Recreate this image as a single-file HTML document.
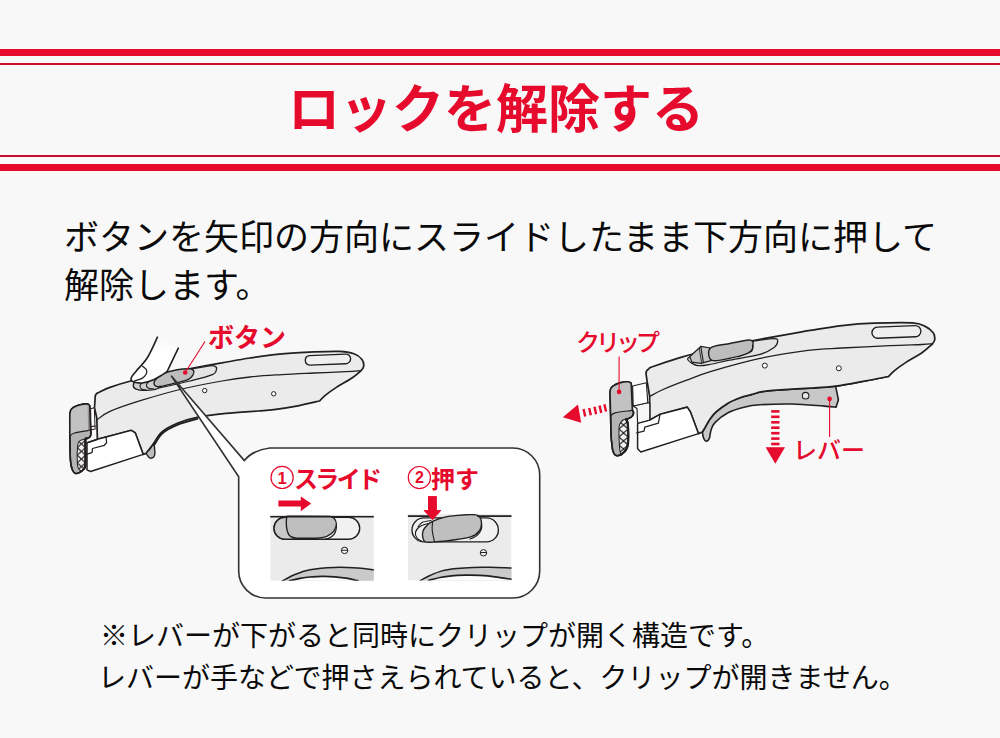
<!DOCTYPE html>
<html lang="ja"><head><meta charset="utf-8"><title>ロックを解除する</title>
<style>
html,body{margin:0;padding:0}
body{width:1000px;height:738px;background:#f8f8f8;position:relative;overflow:hidden;font-family:"Liberation Sans",sans-serif}
.band{position:absolute;left:0;width:1000px;background:#e60a2d}
svg.layer{position:absolute;left:0;top:0}
.t{position:absolute;color:transparent;white-space:nowrap;line-height:1;overflow:hidden;height:1em}
svg.layer text{font-family:"Liberation Sans","Noto Sans CJK JP",sans-serif}
</style></head><body>
<div class="band" style="top:49px;height:7px"></div>
<div class="band" style="top:63px;height:2px;background:#c90f2f"></div>
<div class="band" style="top:155px;height:2px;background:#c90f2f"></div>
<div class="band" style="top:164px;height:7px"></div>
<svg class="layer" width="1000" height="738" viewBox="0 0 1000 738">
<defs>
<linearGradient id="fg" x1="0" y1="0" x2="0" y2="1"><stop offset="0" stop-color="#fff" stop-opacity="0"/><stop offset="0.35" stop-color="#fff" stop-opacity="1"/></linearGradient>
<pattern id="hatL" x="77.2" y="440" width="8.4" height="7.6" patternUnits="userSpaceOnUse"><rect width="8.4" height="7.6" fill="#f2f2f2"/><path d="M0 0L8.4 7.6M8.4 0L0 7.6" stroke="#231f20" stroke-width="1.2" fill="none"/></pattern>
<pattern id="hatR" x="618.8" y="421" width="9.4" height="8" patternUnits="userSpaceOnUse"><rect width="9.4" height="8" fill="#f2f2f2"/><path d="M0 0L9.4 8M9.4 0L0 8" stroke="#231f20" stroke-width="1.2" fill="none"/></pattern>
</defs>
<g id="left-handle">
<path d="M95.2 397Q95 394.2 98 392.8C100 391.9 104.5 389.4 110 387.4C115.5 385.4 122.5 383.1 130.8 381C139.1 378.9 149.6 376.7 160 374.6C170.4 372.5 182.9 370.1 193.2 368.2C203.5 366.2 212.5 364.6 222 362.9C231.5 361.2 240 359.5 250 358C260 356.5 271.3 354.8 282 353.8C292.7 352.8 304.4 352.3 314 351.9C323.6 351.5 332.9 351.1 339.6 351.4C346.3 351.7 350.3 352.5 354 353.8C357.7 355.1 360.4 357.3 362 359.4C363.6 361.5 363.9 364.6 363.6 366.6C363.3 368.6 360.9 370.6 360.4 371.4C359.1 372.5 356.4 375.1 352.4 377.8C348.4 380.5 340.9 384.5 336.4 387.4C331.9 390.3 328 393.1 325.2 395.4C322.4 397.7 320.5 400.1 319.6 401C316 401.8 305.6 404.4 298 405.8C290.4 407.2 280.7 408.7 274 409.6C267.3 410.5 266 410.4 258 411C250 411.6 236.1 412.3 226 413.4C215.9 414.5 205.2 415.8 197.2 417.4C189.2 419 183.9 420.6 178 423C172.1 425.4 166 428.5 162 431.8C158 435.1 155.3 441.1 154 443L146 453.4L143.2 454.4L135.2 432.8L131.2 430.4L106 437L97.4 439.3L96.8 418L94.5 407.7Z" fill="#ebebeb" stroke="#231f20" stroke-width="1.72" stroke-linejoin="round" stroke-linecap="round" />
<path d="M154 443C154.2 444.8 155 451.1 154.9 453.5C154.8 455.9 154.1 456.5 153.4 457.3C152.7 458.1 151.6 458.2 150.8 458.2C150 458.1 149.4 457.8 148.6 457C147.8 456.2 146.4 454 146 453.4L150 449L154 443Z" fill="#bdbdbd" stroke="#231f20" stroke-width="1.38" stroke-linejoin="round" stroke-linecap="round" />
<path d="M154.5 444.5C155.8 442.6 158.5 436.6 162.5 433.2C166.5 429.8 172.7 426.8 178.5 424.4C184.3 422 194.2 419.7 197.4 418.8" fill="none" stroke="#231f20" stroke-width="1.84" stroke-linejoin="round" stroke-linecap="round" />
<path d="M96.8 420C99 418.6 102.5 414.7 110 411.4C117.5 408.1 130 403.9 142 400.2C154 396.5 168.7 392.2 182 389C195.3 385.8 210.7 383 222 381C233.3 379 240 378.1 250 377C260 375.9 271.3 375.3 282 374.6C292.7 373.9 303.3 373.5 314 373C324.7 372.5 338.3 372.1 346 371.7C353.7 371.3 358 370.8 360.4 370.6" fill="none" stroke="#231f20" stroke-width="1.26" stroke-linejoin="round" stroke-linecap="round" />
<path d="M87 442.8L97.4 439.3L106 437L131.2 430.4L135.2 432.8L143.2 454.4L90.5 471.5L87 469.8Z" fill="#fff" stroke="#231f20" stroke-width="1.49" stroke-linejoin="round" stroke-linecap="round" />
<path d="M86.2 454.3L92 452.6L92.5 448.5L104.3 445.3L106.6 442.8L106 437" fill="none" stroke="#231f20" stroke-width="1.26" stroke-linejoin="round" stroke-linecap="round" />
<path d="M97.4 439.3L87 442.8" fill="none" stroke="#231f20" stroke-width="1.26" stroke-linejoin="round" stroke-linecap="round" />
<path d="M90.6 408.8L94.3 407.7L95 426L91 426.8Z" fill="#fff" stroke="#231f20" stroke-width="1.03" stroke-linejoin="round" stroke-linecap="round" />
<path d="M91 426.8L95 426L95.2 429L91.2 429.8Z" fill="#fff" stroke="#231f20" stroke-width="1.03" stroke-linejoin="round" stroke-linecap="round" />
<path d="M69.8 414.5C69.9 413.9 70.1 411.7 70.6 410.6C71.1 409.5 71.3 408.8 72.8 407.8C74.3 406.9 77.2 405.5 79.6 404.9C82 404.2 85.5 403.8 87.2 403.9C88.9 404 89.4 405.5 89.8 405.8L90.4 428.8C90.5 429.6 91.1 432.1 91 433.5C90.9 434.9 90.5 436.1 89.8 437C89.1 437.9 87.1 438.3 86.6 438.6C86.4 439 85.6 436.8 85.4 441C85.2 445.2 85.6 459.4 85.4 464C85.2 468.6 84.4 467.8 84.2 468.6C83.5 469.2 81.4 471.4 80 472.2C78.6 473 76.9 473.8 75.6 473.4C74.3 473 73.2 472 72.3 469.8C71.4 467.6 70.8 466 70.4 460C70 454 69.9 438.3 69.8 434L69.8 414.5Z" fill="#b4b4b4" stroke="#231f20" stroke-width="1.61" stroke-linejoin="round" stroke-linecap="round" />
<path d="M69.8 414.5C69.9 413.9 70.1 411.7 70.6 410.6C71.1 409.5 71.3 408.8 72.8 407.8C74.3 406.9 77.2 405.5 79.6 404.9C82 404.2 85.5 403.8 87.2 403.9C88.9 404 89.4 405.5 89.8 405.8L90.4 428.8C90.1 429.8 90.6 430 87.9 430.6C85.2 431.2 77.5 432.1 74.5 433C71.5 433.9 70.7 435.5 69.9 436Z" fill="#c2c2c2" stroke="none" stroke-width="0.0" stroke-linejoin="round" stroke-linecap="round" />
<path d="M69.9 436C70.7 435.5 71.5 433.9 74.5 433C77.5 432.1 85.2 431.2 87.9 430.6C90.6 430 90.1 429.8 90.6 429.6" fill="none" stroke="#231f20" stroke-width="1.15" stroke-linejoin="round" stroke-linecap="round" />
<path d="M86.6 438.6C85.6 438.9 82.1 439.4 80.6 440.4C79.1 441.4 78.3 440.7 77.8 444.6C77.3 448.5 77.1 459.8 77.4 464C77.7 468.2 78.6 468.6 79.4 469.8C80.2 471 81.9 470.8 82.4 471L84.2 468.6C84.4 467.8 85.2 468.6 85.4 464C85.6 459.4 85.2 445.2 85.4 441C85.6 436.8 86.4 439 86.6 438.6Z" fill="url(#hatL)" stroke="#231f20" stroke-width="1.03" stroke-linejoin="round" stroke-linecap="round" />
<path d="M86.6 438.6C86.4 439 85.6 436.8 85.4 441C85.2 445.2 85.6 459.4 85.4 464C85.2 468.6 84.4 467.8 84.2 468.6" fill="none" stroke="#231f20" stroke-width="2.3" stroke-linejoin="round" stroke-linecap="round" />
<path d="M69.8 414.5C69.9 413.9 70.1 411.7 70.6 410.6C71.1 409.5 71.3 408.8 72.8 407.8C74.3 406.9 77.2 405.5 79.6 404.9C82 404.2 85.5 403.8 87.2 403.9C88.9 404 89.4 405.5 89.8 405.8L90.4 428.8C90.5 429.6 91.1 432.1 91 433.5C90.9 434.9 90.5 436.1 89.8 437C89.1 437.9 87.1 438.3 86.6 438.6C86.4 439 85.6 436.8 85.4 441C85.2 445.2 85.6 459.4 85.4 464C85.2 468.6 84.4 467.8 84.2 468.6C83.5 469.2 81.4 471.4 80 472.2C78.6 473 76.9 473.8 75.6 473.4C74.3 473 73.2 472 72.3 469.8C71.4 467.6 70.8 466 70.4 460C70 454 69.9 438.3 69.8 434L69.8 414.5Z" fill="none" stroke="#231f20" stroke-width="1.61" stroke-linejoin="round" stroke-linecap="round" />
<path d="M88.2 405.2L88.6 430.2" fill="none" stroke="#777" stroke-width="0.69" stroke-linejoin="round" stroke-linecap="round" />
<path d="M137 380.8C141.4 379.2 151.2 377.2 160 375.3C168.8 373.4 181.7 370.9 190 369.3C198.3 367.7 205.7 366.2 210 365.8C214.3 365.4 214.5 366 215.6 366.6C216.7 367.2 216.9 368.3 216.4 369.6C215.9 370.9 216.8 372.7 212.4 374.6C208 376.5 199.1 378.7 190 381C180.9 383.3 165.5 386.6 158 388.2C150.5 389.8 148.7 390.2 145 390.3C141.3 390.4 137.9 389.9 136 389C134.1 388.1 133.2 386.4 133.4 385C133.6 383.6 132.6 382.4 137 380.8Z" fill="#e3e3e3" stroke="#231f20" stroke-width="1.26" stroke-linejoin="round" stroke-linecap="round" />
<path d="M137 380.8C139.8 379.6 146.2 378.3 150 377.5C153.8 376.7 158.7 374.2 160 376C161.3 377.8 160.5 385.8 158 388.2C155.5 390.6 148.7 390.2 145 390.3C141.3 390.4 137.9 389.9 136 389C134.1 388.1 133.2 386.4 133.4 385C133.6 383.6 134.2 382.1 137 380.8Z" fill="#cfcfcf" stroke="#231f20" stroke-width="1.15" stroke-linejoin="round" stroke-linecap="round" />
<path d="M150 380.5C149.4 381.2 146.8 383.2 146.5 384.5C146.2 385.8 146.8 387.2 148 388C149.2 388.8 153 388.8 154 389" fill="none" stroke="#231f20" stroke-width="1.15" stroke-linejoin="round" stroke-linecap="round" />
<path d="M143.5 381.5C142.9 382.2 140.3 384.2 140 385.5C139.7 386.8 140.5 388.2 141.5 389C142.5 389.8 145.2 389.8 146 390" fill="none" stroke="#231f20" stroke-width="1.15" stroke-linejoin="round" stroke-linecap="round" />
<path d="M154 383.4C153.8 382 155.5 379.6 157 378C158.5 376.4 159.4 375.2 162.8 373.8C166.2 372.4 172.7 370.6 177.2 369.8C181.7 369 187.3 368.7 190 368.8C192.7 368.9 193.1 369.7 193.6 370.6C194.1 371.6 194.1 373 193.2 374.5C192.3 376 191.6 377.9 188.4 379.4C185.2 380.9 179.1 382.2 174 383.4C168.9 384.6 161.3 386.6 158 386.6C154.7 386.6 154.2 384.8 154 383.4Z" fill="#bdbdbd" stroke="#231f20" stroke-width="1.38" stroke-linejoin="round" stroke-linecap="round" />
<circle cx="204.7" cy="390.6" r="2.2" fill="#fff" stroke="#231f20" stroke-width="1"/>
<circle cx="273.7" cy="393.8" r="2.2" fill="#fff" stroke="#231f20" stroke-width="1"/>
<path d="M309.2 355.6L345.6 354.1A4.8 4.8 0 0 1 346 363.7L309.7 365.1A4.8 4.8 0 0 1 309.2 355.6Z" fill="#efefef" stroke="#231f20" stroke-width="1.38" stroke-linejoin="round" stroke-linecap="round" />
<path d="M157.4 337.2C155.8 340.6 151 351.9 147.5 357.5C144 363.1 139.1 367.6 136.5 370.7C133.9 373.8 133 374.7 132.1 376.2C131.2 377.7 130.8 378.6 131 379.5C131.2 380.4 131.4 381.2 133.2 381.8C135 382.4 138.7 383.3 142 383C145.3 382.7 149.7 381.3 153 380C156.3 378.7 159.4 376.6 161.8 375.1C164.2 373.7 166.4 371.9 167.3 371.3L171.7 361.9L178.3 348.2Z" fill="url(#fg)" stroke="none" stroke-width="0.0" stroke-linejoin="round" stroke-linecap="round" />
<path d="M157.4 337.2C155.8 340.6 151 351.9 147.5 357.5C144 363.1 139.1 367.6 136.5 370.7C133.9 373.8 133 374.7 132.1 376.2C131.2 377.7 130.8 378.6 131 379.5C131.2 380.4 131.4 381.2 133.2 381.8C135 382.4 138.7 383.3 142 383C145.3 382.7 149.7 381.3 153 380C156.3 378.7 159.4 376.6 161.8 375.1C164.2 373.7 166.4 371.9 167.3 371.3" fill="none" stroke="#231f20" stroke-width="1.61" stroke-linejoin="round" stroke-linecap="round" />
<path d="M167.3 371.3C168 369.7 169.9 365.8 171.7 361.9C173.5 358 177.2 350.5 178.3 348.2" fill="none" stroke="#231f20" stroke-width="1.61" stroke-linejoin="round" stroke-linecap="round" />
<path d="M142.6 366.3C143.2 366.9 145.8 368.5 146.4 369.8C147 371.1 146.9 372.6 146.2 374C145.5 375.4 144 377.2 142 378.4C140 379.6 135.6 380.6 134.3 381" fill="none" stroke="#231f20" stroke-width="1.26" stroke-linejoin="round" stroke-linecap="round" />
</g>
<g id="callout">
<path d="M270 448H513A27 27 0 0 1 539.7 475V571A27 27 0 0 1 513 598H265.7A27 27 0 0 1 238.7 571V476.8L171.6 376.2L244.4 460.6Q252 450.5 270 448Z" fill="#fff" stroke="#333" stroke-width="1.61" stroke-linejoin="round" stroke-linecap="round" />
</g>
<g id="callout-contents">
<circle cx="282.1" cy="477.4" r="11.1" fill="none" stroke="#e60a2d" stroke-width="1.2"/>
<text x="282.1" y="483.6" font-size="16.5" font-weight="700" fill="#e60a2d" text-anchor="middle">1</text>
<circle cx="419.4" cy="477.6" r="11.1" fill="none" stroke="#e60a2d" stroke-width="1.2"/>
<text x="419.4" y="483.1" font-size="16" font-weight="700" fill="#e60a2d" text-anchor="middle">2</text>
<path d="M278.4 500.5H300.8V496.5L311.2 503.6L300.8 511.2V506.6H278.4Z" fill="#e60a2d"/>
<path d="M428.1 496.3H436.7V510.2H441.3L432.6 520.2L423.6 510.2H428.1Z" fill="#e60a2d"/>
<clipPath id="in1"><rect x="270.2" y="515.6" width="103.60000000000002" height="65.19999999999993"/></clipPath>
<g clip-path="url(#in1)"><rect x="270.2" y="515.6" width="103.60000000000002" height="65.19999999999993" fill="#ebebeb"/>
<path d="M282.4 580.8C284.5 579.8 290.4 576.3 295 574.5C299.6 572.7 303.5 571 310 569.8C316.5 568.6 326 567.7 334 567.4C342 567.1 351.4 567.6 358 568C364.6 568.4 371.2 569.5 373.8 569.8L380 570L380 590L275 590Z" fill="#cacaca" stroke="#231f20" stroke-width="1.49" stroke-linejoin="round" stroke-linecap="round" />
<path d="M289.6 580.8C291.3 580.4 296.6 578.9 300 578.3C303.4 577.7 305.9 577.3 310 577C314.1 576.7 318.4 576.2 324.4 576.4C330.4 576.6 340.4 577.5 346 578.2C351.6 578.9 356 580.4 358 580.8L358 590L289 590Z" fill="#fdfdfd" stroke="#231f20" stroke-width="1.72" stroke-linejoin="round" stroke-linecap="round" />
<path d="M285 517.2H348.7A11 11 0 0 1 348.7 539.2H285A11 11 0 0 1 285 517.2Z" fill="#f1f1f1" stroke="#231f20" stroke-width="1.38" stroke-linejoin="round" stroke-linecap="round" />
<path d="M285 517.2H294V539.2H285A11 11 0 0 1 285 517.2Z" fill="#c9c9c9" stroke="#231f20" stroke-width="1.38" stroke-linejoin="round" stroke-linecap="round" />
<path d="M336.4 524C337 533 332 538 325 539.4" fill="none" stroke="#231f20" stroke-width="1.26" stroke-linejoin="round" stroke-linecap="round" />
<path d="M286.8 516C286 522 286 530 289 535C291 537.5 294 538 297 538.2L316 538.2C324 538 331 535 334 530.8C337 526 337 521 334 518.2C332 516.3 330 516 328 516L290 515.6Z" fill="#bfbfbf" stroke="#231f20" stroke-width="1.38" stroke-linejoin="round" stroke-linecap="round" />
<circle cx="344.6" cy="550.4" r="3.2" fill="#f4f4f4" stroke="#231f20" stroke-width="1"/>
<path d="M341.6 550.2H347.6" fill="none" stroke="#231f20" stroke-width="1.03" stroke-linejoin="round" stroke-linecap="round" />
<path d="M270 516.6H374" fill="none" stroke="#231f20" stroke-width="1.72" stroke-linejoin="round" stroke-linecap="round" />
</g>
<clipPath id="in2"><rect x="407.9" y="514" width="103.60000000000002" height="66.39999999999998"/></clipPath>
<g clip-path="url(#in2)"><rect x="407.9" y="514" width="103.60000000000002" height="66.39999999999998" fill="#ebebeb"/>
<path d="M420.4 580.4C422 579.6 426.4 577.1 430 575.5C433.6 573.9 437.5 572.1 442 570.9C446.5 569.7 451.9 569.1 457 568.5C462.1 567.9 467.2 567.6 472.7 567.4C478.2 567.2 483.5 567.2 490 567.3C496.5 567.4 507.9 568 511.5 568.1L520 568L520 590L415 590Z" fill="#cacaca" stroke="#231f20" stroke-width="1.49" stroke-linejoin="round" stroke-linecap="round" />
<path d="M428.8 580.4C430.7 579.9 436.2 578.3 440 577.5C443.8 576.7 447.6 576.2 451.8 575.8C456 575.4 460.4 575.3 465 575.2C469.6 575.1 474.7 575.1 479.7 575.4C484.7 575.7 489.7 576.1 495 576.8C500.3 577.4 508.8 578.9 511.5 579.3L520 580L520 590L428 590Z" fill="#fdfdfd" stroke="#231f20" stroke-width="1.72" stroke-linejoin="round" stroke-linecap="round" />
<path d="M424 517.9H486.4A12 12 0 0 1 486.4 541.9H424A12 12 0 0 1 424 517.9Z" fill="#f1f1f1" stroke="#231f20" stroke-width="1.38" stroke-linejoin="round" stroke-linecap="round" />
<path d="M428 523.5C426.7 524 422.1 525.1 420 526.5C417.9 527.9 416 530.1 415.5 532C415 533.9 415.9 536.4 417 538C418.1 539.6 421.2 540.9 422 541.5" fill="none" stroke="#231f20" stroke-width="1.15" stroke-linejoin="round" stroke-linecap="round" />
<path d="M431 520.5C429.5 520.8 424.2 521.4 422 522.5C419.8 523.6 418.7 526.2 418 527" fill="none" stroke="#231f20" stroke-width="1.15" stroke-linejoin="round" stroke-linecap="round" />
<path d="M481.6 524C482.5 531 478 536.5 470 539" fill="none" stroke="#231f20" stroke-width="1.26" stroke-linejoin="round" stroke-linecap="round" />
<path d="M432.6 521.4C435.5 520.1 440.6 518.2 444.8 517.2C449 516.2 453.6 515.8 458 515.4C462.4 515 467.9 514.5 471.3 514.6C474.7 514.7 476.6 514.5 478.3 515.8C480 517 481.2 519.6 481.4 522.1C481.6 524.6 481.4 528.1 479.7 530.5C478 532.9 475.9 535.1 471.3 536.7C466.7 538.3 458 539.3 451.8 540.2C445.6 541.1 438.8 541.6 434.4 541.9C430 542.2 427.2 542.6 425.3 541.9C423.4 541.1 423.2 539.3 422.8 537.4C422.4 535.5 422.4 532.6 423.2 530.5C424 528.4 425.8 526.4 427.4 524.9C429 523.4 429.7 522.7 432.6 521.4Z" fill="#bfbfbf" stroke="#231f20" stroke-width="1.38" stroke-linejoin="round" stroke-linecap="round" />
<path d="M432.6 521.8C432.5 523.2 431.9 526.7 432.2 530C432.5 533.3 434 539.7 434.4 541.6" fill="none" stroke="#231f20" stroke-width="1.15" stroke-linejoin="round" stroke-linecap="round" />
<circle cx="483.5" cy="552.8" r="3.2" fill="#f4f4f4" stroke="#231f20" stroke-width="1"/>
<path d="M480.5 552.6H486.5" fill="none" stroke="#231f20" stroke-width="1.03" stroke-linejoin="round" stroke-linecap="round" />
<path d="M407 516.2H433M478 516.2H512" fill="none" stroke="#231f20" stroke-width="1.72" stroke-linejoin="round" stroke-linecap="round" />
</g>
<path d="M428.1 496.3H436.7V510.2H441.3L432.6 520.2L423.6 510.2H428.1Z" fill="#e60a2d"/>
</g>
<g id="right-handle">
<path d="M888.4 376.5C884.7 377.2 874.8 379.2 866 380.8C857.2 382.4 844.9 384.9 835.6 386.1C826.3 387.3 817.3 387.7 810 388.2C802.7 388.7 799.7 388.7 792 389.2C784.3 389.7 770.7 390.5 764 391.4C757.3 392.3 756 393.3 752 394.4C748 395.5 744 396.3 740 397.8C736 399.3 732 400.8 728 403.2C724 405.6 718.9 409.4 716 412C713.1 414.6 712.3 415.8 710.4 418.5C708.5 421.2 705.7 426.4 704.8 428L702.4 432C702.6 432.9 702.9 436.2 703.4 437.6C703.9 439 704.5 440.1 705.2 440.6C705.9 441.1 707.1 441.2 707.8 440.7C708.5 440.2 709.3 438.1 709.6 437.6C709.9 436.3 710.3 432.1 711.2 429.6C712.1 427.1 712.4 425.2 715.2 422.4C718 419.6 723.2 415.3 728 412.8C732.8 410.3 738.7 408.5 744 407.2C749.3 405.9 752 405.3 760 404.8C768 404.3 781.3 403.8 792 404C802.7 404.2 816.7 405.6 824 406.1C831.3 406.6 834 407 836 407.2L838.4 400L838 397.6L835.6 386.1Z" fill="#c8c8c8" stroke="#231f20" stroke-width="1.61" stroke-linejoin="round" stroke-linecap="round" />
<path d="M646 373.5Q646 370.2 649 368.8C649.6 368.5 647.2 368.7 652.4 366.8C657.6 364.9 672.1 360 680 357.6C687.9 355.2 692.5 354.2 700 352.3C707.5 350.4 716.3 348.4 725 346.5C733.7 344.6 740.8 342.9 752 340.8C763.2 338.7 782.3 335.3 792 333.6C801.7 331.9 801.7 331.7 810 330.4C818.3 329.1 831.3 326.8 842 325.6C852.7 324.4 862.3 323.6 874 323.2C885.7 322.8 903.9 322.4 912.4 322.9C920.9 323.4 921.7 324.8 925.2 326.4C928.7 328 931.6 330.7 933.2 332.8C934.8 334.9 934.9 337.3 934.8 339.2C934.7 341.1 932.8 343.2 932.4 344C930.7 345.5 926.4 349.7 922 352.8C917.6 355.9 910.5 359.5 906 362.4C901.5 365.3 897.7 368 894.8 370.4C891.9 372.8 889.5 375.5 888.4 376.5C884.7 377.2 874.8 379.2 866 380.8C857.2 382.4 844.9 384.9 835.6 386.1C826.3 387.3 817.3 387.7 810 388.2C802.7 388.7 799.7 388.7 792 389.2C784.3 389.7 770.7 390.5 764 391.4C757.3 392.3 756 393.3 752 394.4C748 395.5 744 396.3 740 397.8C736 399.3 732 400.8 728 403.2C724 405.6 718.9 409.4 716 412C713.1 414.6 712.3 415.8 710.4 418.5C708.5 421.2 705.7 426.4 704.8 428L702.4 432L698.4 433.6L690.4 412L687.2 407.2L660 414.4L649.8 420L649.6 396L647.2 382Z" fill="#ebebeb" stroke="#231f20" stroke-width="1.72" stroke-linejoin="round" stroke-linecap="round" />
<path d="M650 396.4C652 395.3 656 392.7 662 390C668 387.3 677.7 383.5 686 380.4C694.3 377.3 699.7 374.9 712 371.2C724.3 367.5 744 361.9 760 358.4C776 354.9 794.3 352.1 808 350.4C821.7 348.7 828.3 348.8 842 348C855.7 347.2 876.7 346.2 890 345.6C903.3 345 915 344.8 922 344.5C929 344.2 930.3 343.9 932 343.8" fill="none" stroke="#231f20" stroke-width="1.26" stroke-linejoin="round" stroke-linecap="round" />
<path d="M637.6 423.2L649.8 420L660 414.4L687.2 407.2L690.4 412L698.4 433.6L640.8 452L637.6 448.8Z" fill="#fff" stroke="#231f20" stroke-width="1.49" stroke-linejoin="round" stroke-linecap="round" />
<path d="M636.8 432.8L644 431.2L644.8 427.2L658.4 423.2L660 414.4" fill="none" stroke="#231f20" stroke-width="1.26" stroke-linejoin="round" stroke-linecap="round" />
<path d="M633.2 406L647.6 402.8L649.8 403L649.8 420L637.6 423.2L637 408.4Z" fill="#f6f6f6" stroke="#231f20" stroke-width="1.15" stroke-linejoin="round" stroke-linecap="round" />
<path d="M632.6 386L646.4 382.8L647.8 402.8L633.2 406Z" fill="#fff" stroke="#231f20" stroke-width="1.15" stroke-linejoin="round" stroke-linecap="round" />
<path d="M610 392.4C610.1 391.8 610.3 389.6 610.8 388.6C611.3 387.6 611.4 387.1 612.9 386.2C614.4 385.2 617.3 383.6 619.8 382.9C622.3 382.2 626.1 381.7 628 381.8C629.9 381.9 630.7 383.1 631.2 383.3L632.4 410.4C632.6 410.8 633.8 411.9 633.6 413C633.4 414.1 632.7 415.9 631.4 417C630.1 418.1 626.9 419.2 626 419.6C626.3 420.3 627.5 420.1 627.8 424C628.1 427.9 628.4 438.9 628 443.3C627.6 447.7 626.8 448.5 625.6 450.4C624.4 452.3 621.8 453.9 621 454.6C620.2 454.8 617.5 456.1 616.2 455.6C614.9 455.1 613.7 453.7 613 451.6C612.3 449.6 612.1 445.9 611.8 443.3C611.5 440.7 611.3 440.6 611.1 436C610.9 431.4 610.7 419.3 610.6 416L610 392.4Z" fill="#b4b4b4" stroke="#231f20" stroke-width="1.61" stroke-linejoin="round" stroke-linecap="round" />
<path d="M610 392.4C610.1 391.8 610.3 389.6 610.8 388.6C611.3 387.6 611.4 387.1 612.9 386.2C614.4 385.2 617.3 383.6 619.8 382.9C622.3 382.2 626.1 381.7 628 381.8C629.9 381.9 630.7 383.1 631.2 383.3L632.4 410.4C632.1 410.4 633.3 410.2 630.4 410.6C627.5 411 618.3 412 615 412.9C611.7 413.8 611.3 415.5 610.6 416Z" fill="#c2c2c2" stroke="none" stroke-width="0.0" stroke-linejoin="round" stroke-linecap="round" />
<path d="M610.6 416C611.3 415.5 611.7 413.8 615 412.9C618.3 412 627.5 411 630.4 410.6C633.3 410.2 632.1 410.4 632.4 410.4" fill="none" stroke="#231f20" stroke-width="1.15" stroke-linejoin="round" stroke-linecap="round" />
<path d="M631.4 417C630.1 417.5 625.5 418.7 623.6 419.8C621.7 420.9 621 421.9 620.2 423.4C619.4 424.9 619.1 424.6 619 428.7C618.9 432.8 619.3 443.9 619.6 448.2C619.9 452.5 620.8 453.5 621 454.6L621 454.6C621.8 453.9 624.4 452.3 625.6 450.4C626.8 448.5 627.6 447.7 628 443.3C628.4 438.9 628.1 427.9 627.8 424C627.5 420.1 626.3 420.3 626 419.6Z" fill="url(#hatR)" stroke="#231f20" stroke-width="1.03" stroke-linejoin="round" stroke-linecap="round" />
<path d="M626 419.6C626.3 420.3 627.5 420.1 627.8 424C628.1 427.9 628.4 438.9 628 443.3C627.6 447.7 626.8 448.5 625.6 450.4C624.4 452.3 621.8 453.9 621 454.6" fill="none" stroke="#231f20" stroke-width="2.3" stroke-linejoin="round" stroke-linecap="round" />
<path d="M610 392.4C610.1 391.8 610.3 389.6 610.8 388.6C611.3 387.6 611.4 387.1 612.9 386.2C614.4 385.2 617.3 383.6 619.8 382.9C622.3 382.2 626.1 381.7 628 381.8C629.9 381.9 630.7 383.1 631.2 383.3L632.4 410.4C632.6 410.8 633.8 411.9 633.6 413C633.4 414.1 632.7 415.9 631.4 417C630.1 418.1 626.9 419.2 626 419.6C626.3 420.3 627.5 420.1 627.8 424C628.1 427.9 628.4 438.9 628 443.3C627.6 447.7 626.8 448.5 625.6 450.4C624.4 452.3 621.8 453.9 621 454.6C620.2 454.8 617.5 456.1 616.2 455.6C614.9 455.1 613.7 453.7 613 451.6C612.3 449.6 612.1 445.9 611.8 443.3C611.5 440.7 611.3 440.6 611.1 436C610.9 431.4 610.7 419.3 610.6 416L610 392.4Z" fill="none" stroke="#231f20" stroke-width="1.61" stroke-linejoin="round" stroke-linecap="round" />
<path d="M688 360C686.9 358.4 689 357.1 691 355.8C693 354.5 694.3 353.7 700 352.2C705.7 350.7 716.3 348.6 725 346.8C733.7 345 743.8 342.8 752 341.4C760.2 340 770.1 338.7 774.4 338.7C778.7 338.7 777.6 340.2 777.6 341.6C777.6 343 777.3 345.1 774.4 347.2C771.5 349.3 767.7 352.2 760 354.4C752.3 356.6 736 358.8 728 360.4C720 362 717.1 363.1 712 364C706.9 364.9 701.6 366.3 697.6 365.6C693.6 364.9 689.1 361.6 688 360Z" fill="#e3e3e3" stroke="#231f20" stroke-width="1.26" stroke-linejoin="round" stroke-linecap="round" />
<path d="M689.6 356.8L699.2 348L700.8 346.4L710.4 348L712 360.4L700.8 363.4L692 362.2Z" fill="#c6c6c6" stroke="#231f20" stroke-width="1.26" stroke-linejoin="round" stroke-linecap="round" />
<path d="M700.8 346.4L703.4 362.6" fill="none" stroke="#231f20" stroke-width="1.15" stroke-linejoin="round" stroke-linecap="round" />
<path d="M699.2 348L701.6 363" fill="none" stroke="#231f20" stroke-width="0.92" stroke-linejoin="round" stroke-linecap="round" />
<path d="M710.4 348C713.4 345.2 723.6 344.8 730 343.5C736.4 342.2 745 340.2 748.8 340C752.6 339.8 752.1 341 752.8 342C753.5 343 753.2 344.3 752.8 346C752.4 347.7 753.7 350.1 750.4 352C747.1 353.9 739.2 356.2 732.8 357.6C726.4 359 715.7 362 712 360.4C708.3 358.8 707.4 350.8 710.4 348Z" fill="#bdbdbd" stroke="#231f20" stroke-width="1.38" stroke-linejoin="round" stroke-linecap="round" />
<path d="M752.8 345C754 350 748 354 738 357" fill="none" stroke="#231f20" stroke-width="1.15" stroke-linejoin="round" stroke-linecap="round" />
<circle cx="764.8" cy="365.6" r="2.5" fill="#fff" stroke="#231f20" stroke-width="1"/>
<circle cx="838.8" cy="368.3" r="2.5" fill="#fff" stroke="#231f20" stroke-width="1"/>
<circle cx="805.6" cy="395.7" r="3.3" fill="#e6e6e6" stroke="#231f20" stroke-width="1.1"/>
<path d="M877.3 327.1L915 325.6A5.6 5.6 0 0 1 915.5 336.8L877.8 338.3A5.6 5.6 0 0 1 877.3 327.1Z" fill="#efefef" stroke="#231f20" stroke-width="1.38" stroke-linejoin="round" stroke-linecap="round" />
</g>
<g id="red-marks">
<path d="M205 341.5L185.2 372.5M619.1 356.4V391.9M829.6 398.9V437" stroke="#e60a2d" stroke-width="1.1" fill="none"/><circle cx="185.2" cy="372.5" r="2.3" fill="#e60a2d"/>
<circle cx="619.1" cy="391.9" r="2.3" fill="#e60a2d"/><circle cx="829.6" cy="398.9" r="2.3" fill="#e60a2d"/>
<path d="M562.8 417.2L578 404.4L581.2 422.8Z" fill="#e60a2d"/>
<rect x="583.2" y="408.9" width="2.4" height="7.6" fill="#e60a2d" transform="rotate(-12.4 584.4 412.7)"/>
<rect x="588.8" y="407.8" width="2.4" height="7.6" fill="#e60a2d" transform="rotate(-12.4 590 411.6)"/>
<rect x="594.1" y="406.7" width="2.4" height="7.6" fill="#e60a2d" transform="rotate(-12.4 595.3 410.5)"/>
<rect x="599.2" y="405.4" width="2.4" height="7.6" fill="#e60a2d" transform="rotate(-12.4 600.4 409.2)"/>
<rect x="604.0" y="404.1" width="2.4" height="7.6" fill="#e60a2d" transform="rotate(-12.4 605.2 407.9)"/>
<rect x="771.2" y="410.1" width="8.3" height="2.6" fill="#e60a2d"/>
<rect x="771.2" y="415.5" width="8.3" height="2.6" fill="#e60a2d"/>
<rect x="771.2" y="421.0" width="8.3" height="2.6" fill="#e60a2d"/>
<rect x="771.2" y="426.4" width="8.3" height="2.6" fill="#e60a2d"/>
<rect x="771.2" y="431.9" width="8.3" height="2.6" fill="#e60a2d"/>
<rect x="771.2" y="437.3" width="8.3" height="2.6" fill="#e60a2d"/>
<rect x="771.2" y="442.7" width="8.3" height="2.6" fill="#e60a2d"/>
<path d="M765.6 447.3H785L775.3 463.8Z" fill="#e60a2d"/>
</g>
<g id="glyphs">
<text x="288" y="128" font-size="52" font-weight="700" fill="#e60a2d">ロックを解除する</text>
<text x="64" y="250" font-size="35" fill="#0a0a0a">ボタンを矢印の方向にスライドしたまま下方向に押して</text>
<text x="64" y="298" font-size="35" fill="#0a0a0a">解除します。</text>
<text x="208" y="347" font-size="26" font-weight="700" fill="#e60a2d">ボタン</text>
<text x="576" y="351" font-size="24" font-weight="500" fill="#e60a2d" textLength="84" lengthAdjust="spacing">クリップ</text>
<text x="793" y="459" font-size="24" font-weight="500" fill="#e60a2d">レバー</text>
<text x="294" y="488" font-size="24" font-weight="700" fill="#e60a2d" textLength="88" lengthAdjust="spacing">スライド</text>
<text x="431" y="488" font-size="24" font-weight="700" fill="#e60a2d">押す</text>
<text x="100" y="646" font-size="28" fill="#0a0a0a">※レバーが下がると同時にクリップが開く構造です。</text>
<text x="98" y="688" font-size="28" fill="#0a0a0a">レバーが手などで押さえられていると、クリップが開きません。</text>
</g>
</svg>
<div id="textlayer">
<span class="t" style="left:288px;top:82px;font-size:52px;width:420px">ロックを解除する</span>
<span class="t" style="left:64px;top:220px;font-size:35px;width:874px">ボタンを矢印の方向にスライドしたまま下方向に押して</span>
<span class="t" style="left:64px;top:268px;font-size:35px;width:210px">解除します。</span>
<span class="t" style="left:208px;top:324px;font-size:26px;width:78px">ボタン</span>
<span class="t" style="left:576px;top:330px;font-size:24px;width:82px">クリップ</span>
<span class="t" style="left:792px;top:438px;font-size:24px;width:73px">レバー</span>
<span class="t" style="left:268px;top:465px;font-size:26px;width:113px">①スライド</span>
<span class="t" style="left:407px;top:466px;font-size:25px;width:73px">②押す</span>
<span class="t" style="left:100px;top:622px;font-size:28px;width:674px">※レバーが下がると同時にクリップが開く構造です。</span>
<span class="t" style="left:98px;top:664px;font-size:28px;width:815px">レバーが手などで押さえられていると、クリップが開きません。</span>
</div>
</body></html>
